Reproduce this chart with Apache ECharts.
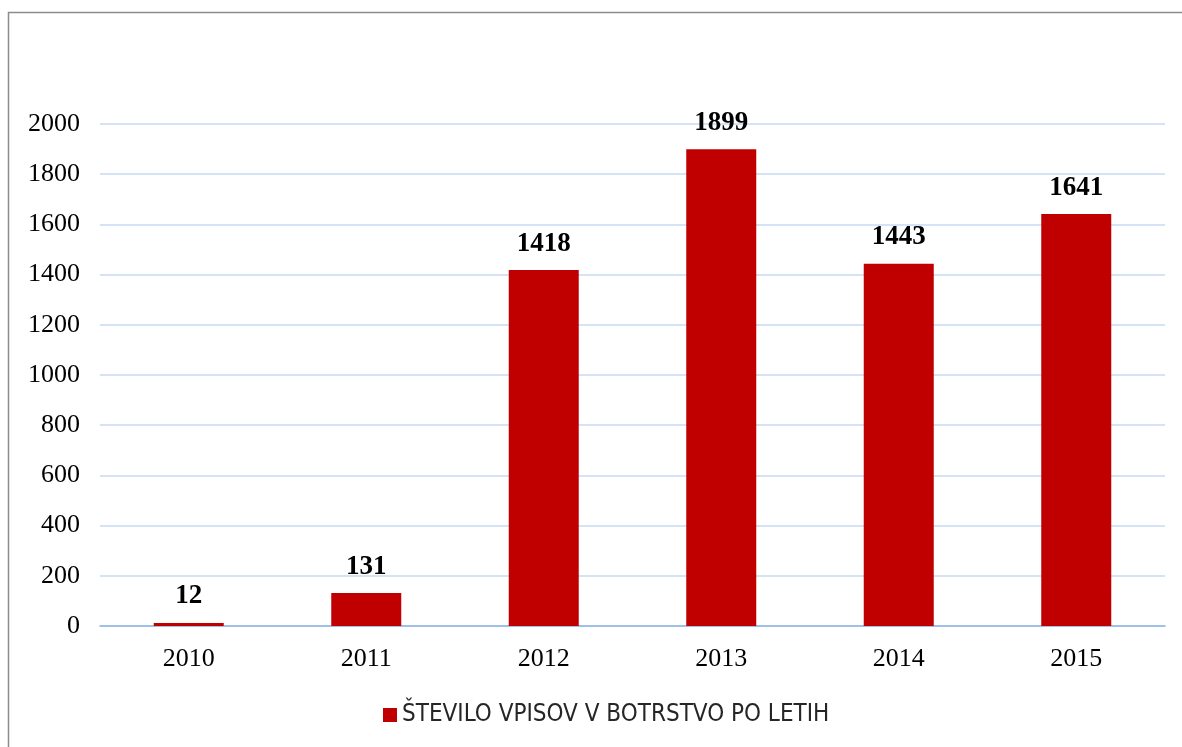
<!DOCTYPE html>
<html>
<head>
<meta charset="utf-8">
<script src="https://cdn.jsdelivr.net/npm/echarts@6/dist/echarts.min.js"></script>
<style>
html,body{margin:0;padding:0;background:#fff;}
#chart{width:1182px;height:747px;}
</style>
</head>
<body>
<div id="chart"></div>
<script>
const categories = ['2010','2011','2012','2013','2014','2015'];
const values = [12, 131, 1418, 1899, 1443, 1641];
const seriesName = 'ŠTEVILO VPISOV V BOTRSTVO PO LETIH';
const yMin = 0, yMax = 2000, yStep = 200;

const chart = echarts.init(document.getElementById('chart'));
chart.setOption({
  animation: false,
  backgroundColor: '#ffffff',
  graphic: [{
    type: 'rect',
    shape: {x: 8.5, y: 12.5, width: 1300, height: 900},
    style: {fill: 'none', stroke: '#8c8c8c', lineWidth: 1.5},
    silent: true
  }],
  grid: {left: 100, right: 17, top: 124, bottom: 121, containLabel: false},
  legend: {
    top: 698,
    left: 378,
    itemWidth: 14,
    itemHeight: 14,
    itemGap: 8,
    icon: 'rect',
    textStyle: {fontFamily: '"Liberation Sans Narrow", "DejaVu Sans Condensed", sans-serif', fontSize: 24, color: '#262626'},
    data: [seriesName]
  },
  xAxis: {
    type: 'category',
    data: categories,
    axisLine: {lineStyle: {color: '#8DB4E2', width: 1.5}},
    axisTick: {show: false},
    axisLabel: {fontFamily: 'Liberation Serif, Times New Roman, serif', fontSize: 26, color: '#000', margin: 20}
  },
  yAxis: {
    type: 'value',
    min: yMin, max: yMax, interval: yStep,
    axisLine: {show: false},
    axisTick: {show: false},
    splitLine: {lineStyle: {color: '#C6DBF3', width: 1.5}},
    axisLabel: {fontFamily: 'Liberation Serif, Times New Roman, serif', fontSize: 26, color: '#000', margin: 20,
      formatter: function (v) { return String(v); }}
  },
  series: [{
    name: seriesName,
    type: 'bar',
    data: values,
    barWidth: 70,
    itemStyle: {color: '#C00000'},
    label: {
      show: true,
      position: 'top',
      distance: 13,
      fontFamily: 'Liberation Serif, Times New Roman, serif',
      fontWeight: 'bold',
      fontSize: 27,
      color: '#000'
    }
  }]
});
</script>
</body>
</html>
